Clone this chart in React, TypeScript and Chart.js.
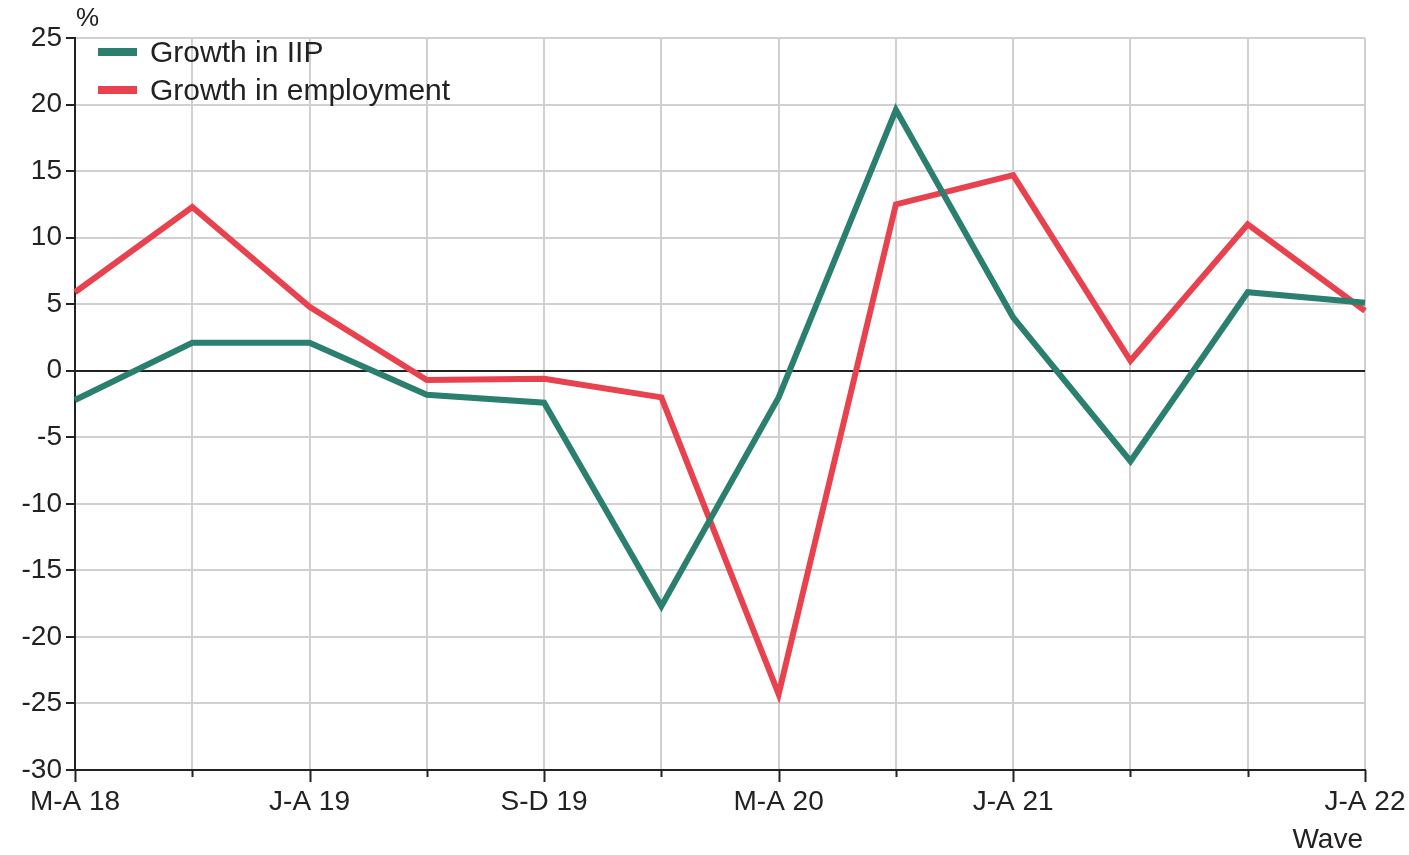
import React, { useEffect, useRef } from "react";
import { Chart, registerables } from "chart.js";

Chart.register(...registerables);

const categories = ["M-A 18", "", "J-A 19", "", "S-D 19", "", "M-A 20", "", "J-A 21", "", "", "J-A 22"];
const growthIIP = [-2.2, 2.1, 2.1, -1.8, -2.4, -17.7, -2.0, 19.6, 4.0, -6.8, 5.9, 5.1];
const growthEmployment = [5.9, 12.3, 4.8, -0.7, -0.6, -2.0, -24.3, 12.5, 14.7, 0.75, 11.0, 4.5];
const seriesNames = ["Growth in IIP", "Growth in employment"];
const seriesColors = ["#2a7f6f", "#e8424f"];

const FONT = "Liberation Sans, Arial, Helvetica, sans-serif";

export default function App() {
  const ref = useRef<HTMLCanvasElement | null>(null);
  useEffect(() => {
    if (!ref.current) return;
    const deco = {
      id: "deco",
      afterDraw(chart: any) {
        const ctx = chart.ctx;
        const xs = chart.scales.x;
        const area = chart.chartArea;
        ctx.save();
        // x tick marks
        ctx.strokeStyle = "#222";
        ctx.lineWidth = 2;
        for (let i = 0; i < categories.length; i++) {
          const px = Math.round(xs.getPixelForValue(i)) + 0.5;
          const len = categories[i] ? 12 : 7;
          ctx.beginPath();
          ctx.moveTo(px, area.bottom);
          ctx.lineTo(px, area.bottom + len);
          ctx.stroke();
        }
        // legend
        ctx.font = `30px ${FONT}`;
        ctx.textBaseline = "middle";
        ctx.textAlign = "left";
        const ly = [52, 90];
        for (let i = 0; i < 2; i++) {
          ctx.strokeStyle = seriesColors[i];
          ctx.lineWidth = 8;
          ctx.beginPath();
          ctx.moveTo(98, ly[i]);
          ctx.lineTo(137, ly[i]);
          ctx.stroke();
          ctx.fillStyle = "#222";
          ctx.fillText(seriesNames[i], 150, ly[i] + 2);
        }
        // axis titles
        ctx.fillStyle = "#222";
        ctx.font = `26px ${FONT}`;
        ctx.fillText("%", 76, 19);
        ctx.textAlign = "right";
        ctx.font = `28px ${FONT}`;
        ctx.fillText("Wave", 1363, 840);
        ctx.restore();
      },
    };
    const chart = new Chart(ref.current, {
      type: "line",
      data: {
        labels: categories,
        datasets: [
          {
            label: seriesNames[0],
            data: growthIIP,
            borderColor: seriesColors[0],
            backgroundColor: seriesColors[0],
            borderWidth: 6,
            pointRadius: 0,
            tension: 0,
          },
          {
            label: seriesNames[1],
            data: growthEmployment,
            borderColor: seriesColors[1],
            backgroundColor: seriesColors[1],
            borderWidth: 6,
            pointRadius: 0,
            tension: 0,
          },
        ],
      },
      options: {
        animation: false,
        responsive: false,
        maintainAspectRatio: false,
        layout: { padding: { top: 38, right: 44, left: 0, bottom: 0 } },
        plugins: { legend: { display: false }, tooltip: { enabled: false } },
        scales: {
          x: {
            offset: false,
            grid: {
              color: "#d0d0d0",
              lineWidth: 2,
              drawTicks: false,
            },
            border: { color: "#222", width: 2 },
            ticks: {
              autoSkip: false,
              maxRotation: 0,
              padding: 15,
              color: "#222",
              font: { family: FONT, size: 28 },
            },
            afterFit(scale: any) {
              scale.height = 85;
              scale.paddingLeft = 0;
              scale.paddingRight = 0;
            },
          },
          y: {
            min: -30,
            max: 25,
            grid: {
              color: (c: any) => (c.tick && c.tick.value === 0 ? "#222" : "#d0d0d0"),
              lineWidth: 2,
              drawTicks: true,
              tickLength: 9,
              tickColor: "#222",
            },
            border: { color: "#222", width: 2 },
            ticks: {
              stepSize: 5,
              padding: 4,
              color: "#222",
              font: { family: FONT, size: 28 },
            },
            afterFit(scale: any) {
              scale.width = 75;
              scale.paddingTop = 0;
              scale.paddingBottom = 0;
            },
          },
        },
      },
      plugins: [deco],
    });
    return () => chart.destroy();
  }, []);
  return (
    <div style={{ position: "absolute", left: 0, top: 0, width: 1409, height: 855, background: "#fff" }}>
      <canvas ref={ref} width={1409} height={855} style={{ width: 1409, height: 855 }} />
    </div>
  );
}
